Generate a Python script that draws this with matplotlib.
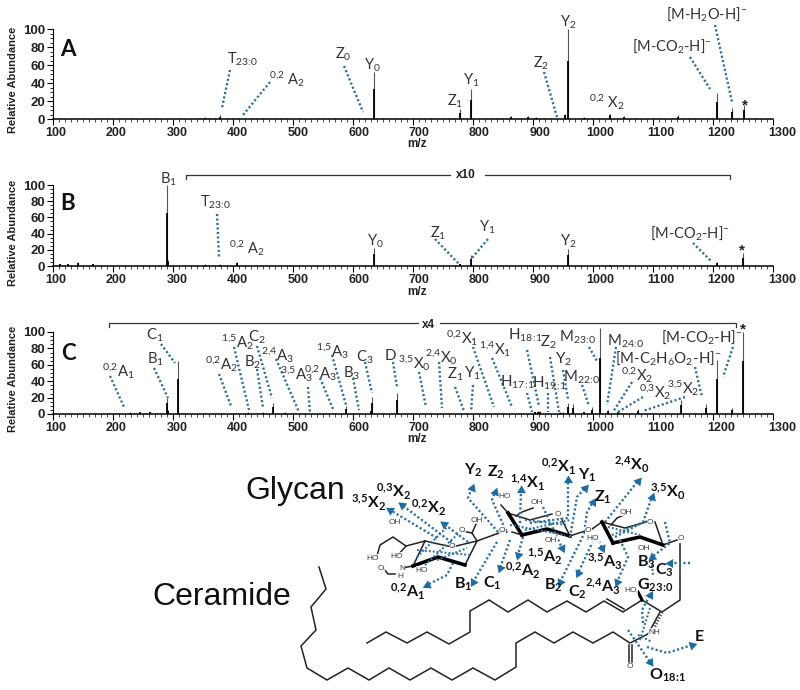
import numpy as np
import matplotlib
matplotlib.use("Agg")
import matplotlib.pyplot as plt
from matplotlib.ticker import MultipleLocator
from matplotlib.transforms import ScaledTranslation

plt.rcParams["font.family"] = ["Liberation Sans", "DejaVu Sans"]
plt.rcParams["mathtext.default"] = "regular"

# peaks
mz_a = [353, 378, 635, 778, 797, 864, 892, 905, 954, 958, 985, 1028, 1052, 1141, 1206, 1232, 1252]
ab_a = [2, 4, 52, 11, 33, 3, 3, 2, 6, 100, 2, 6, 3, 4, 29, 12, 15.5]
noise_a = [340, 345, 360, 370, 390, 400, 420, 450, 480, 510, 540, 570, 600, 620, 650, 680, 700,
           730, 760, 820, 840, 880, 920, 940, 970, 1000, 1070, 1100, 1160, 1220, 1270]

mz_b = [112, 125, 142, 167, 289.5, 292, 353, 378, 407, 635, 778, 797, 958, 1028, 1206, 1250]
ab_b = [3, 3, 5, 3, 100, 8, 2, 2, 5, 22, 3, 14, 21, 1, 5, 16]
noise_b = [105, 118, 130, 150, 160, 180, 200, 220, 240, 260, 275, 300, 320, 340, 370, 390, 420,
           450, 480, 510, 540, 570, 600, 620, 650, 680, 700, 730, 760, 820, 850, 880, 910,
           940, 980, 1010, 1050, 1100, 1150, 1180, 1220, 1270]

mz_c = [228, 245, 262, 289.5, 292, 308, 425, 450, 467, 487, 588, 630, 632, 673, 903, 908, 912,
        945, 950, 958, 967, 985, 998, 1012, 1025, 1042, 1075, 1147, 1188, 1206, 1232, 1250]
ab_c = [2, 3, 3, 20, 5, 65, 2, 2, 14, 2, 10, 5, 21, 26, 3, 4, 4,
        2, 2, 13, 12, 3, 8, 105, 5, 3, 6, 17, 12, 66, 7, 100]
noise_c = [150, 170, 190, 210, 235, 255, 270, 320, 350, 380, 400, 440, 500, 520, 550, 570, 600,
           650, 700, 730, 760, 790, 820, 850, 880, 925, 1060, 1100, 1120, 1170, 1220, 1270]

panels = [
    ("A", mz_a, ab_a, noise_a, 29, 119),
    ("B", mz_b, ab_b, noise_b, 185, 266),
    ("C", mz_c, ab_c, noise_c, 332, 414),
]

# callouts on the spectra, positions in image pixels
labels_a = [("T$_{23:0}$", 243, 59), ("$^{0{,}2}$ A$_2$", 287, 79), ("Z$_0$", 343, 54), ("Y$_0$", 372, 65),
            ("Z$_1$", 455, 101), ("Y$_1$", 471, 80), ("Z$_2$", 541, 63), ("Y$_2$", 568, 22),
            ("$^{0{,} 2}$ X$_2$", 607, 102), ("[M-CO$_2$-H]$^{-}$", 672, 46), ("[M-H$_2$O-H]$^{-}$", 707, 14)]
dots_a = [(230, 70, 222, 108), (270, 82, 243, 115), (344, 66, 363, 112), (544, 72, 557, 117),
          (690, 57, 710, 89), (715, 25, 732, 102)]

labels_b = [("B$_1$", 168, 179), ("T$_{23:0}$", 216, 202), ("$^{0{,}2}$ A$_2$", 247, 248), ("Y$_0$", 375, 241),
            ("Z$_1$", 438, 233), ("Y$_1$", 487, 227), ("Y$_2$", 568, 241), ("[M-CO$_2$-H]$^{-}$", 690, 233)]
dots_b = [(217, 214, 219, 257), (435, 239, 459, 264), (488, 239, 472, 258), (693, 243, 712, 262)]

labels_c = [("$^{0{,}2}$A$_1$", 118, 371), ("B$_1$", 156, 359), ("C$_1$", 155, 335), ("$^{0{,}2}$A$_2$", 221, 364),
            ("$^{1{,}5}$A$_2$", 237, 342), ("C$_2$", 257, 337), ("B$_2$", 253, 362), ("$^{2{,}4}$A$_3$", 277, 355),
            ("$^{3{,}5}$A$_3$", 296, 374), ("$^{0{,}2}$A$_3$", 320, 373), ("$^{1{,}5}$A$_3$", 332, 351),
            ("C$_3$", 365, 357), ("B$_3$", 352, 373), ("D", 390, 356), ("$^{3{,}5}$X$_0$", 414, 363),
            ("$^{2{,}4}$X$_0$", 441, 357), ("$^{0{,}2}$X$_1$", 462, 338), ("$^{1{,}4}$X$_1$", 495, 349),
            ("Z$_1$", 455, 374), ("Y$_1$", 472, 373), ("H$_{17:1}$", 517, 382), ("H$_{19:1}$", 549, 383),
            ("H$_{18:1}$", 525, 335), ("Z$_2$", 548, 342), ("Y$_2$", 563, 359), ("M$_{22:0}$", 582, 377),
            ("M$_{23:0}$", 578, 337), ("M$_{24:0}$", 626, 341), ("[M-C$_2$H$_6$O$_2$-H]$^{-}$", 668, 358),
            ("$^{0{,}2}$X$_2$", 637, 375), ("$^{0{,}3}$X$_2$", 655, 392), ("$^{3{,}5}$X$_2$", 683, 388),
            ("[M-CO$_2$-H]$^{-}$", 702, 337)]
dots_c = [(110, 376, 124, 407), (154, 368, 168, 398), (161, 344, 175, 363), (219, 374, 231, 406),
          (234, 347, 249, 410), (257, 346, 272, 398), (257, 369, 263, 408), (276, 359, 299, 412),
          (308, 387, 310, 413), (320, 378, 333, 409), (332, 355, 346, 405), (365, 362, 372, 393),
          (353, 378, 359, 410), (393, 362, 397, 387), (419, 372, 426, 407), (439, 362, 442, 408),
          (455, 387, 464, 411), (473, 385, 471, 412), (473, 347, 494, 407), (492, 358, 512, 407),
          (527, 350, 539, 406), (527, 393, 532, 412), (548, 393, 548, 412), (550, 357, 559, 412),
          (563, 370, 568, 399), (582, 385, 589, 406), (589, 347, 597, 361), (616, 347, 607, 405),
          (632, 382, 613, 412), (643, 397, 618, 412), (685, 397, 643, 411), (695, 367, 702, 397),
          (733, 347, 723, 377)]

stars = [(745, 103), (742, 248), (743, 327)]

# glycolipid drawing, image pixels
tail_1 = [(319, 567), (326, 589), (311, 607), (316, 630), (301, 646), (307, 668), (327, 680), (348, 668),
          (369, 680), (389, 668), (410, 680), (431, 668), (452, 680), (473, 668), (495, 680), (516, 667),
          (516, 643), (535, 632), (554, 643), (573, 632), (593, 643), (613, 632), (630, 643), (648, 634)]
tail_2 = [(367, 643), (386, 632), (407, 643), (427, 632), (449, 644), (470, 632), (470, 611), (489, 600),
          (508, 612), (528, 600), (547, 612), (567, 601), (586, 612), (604, 601), (623, 612), (642, 600),
          (662, 612), (680, 600), (680, 544)]
ring_1 = [(425, 541), (452, 547), (477, 541), (465, 565)]
ring_1b = [(425, 541), (413, 566)]
ring_1_thick = [(465, 565), (438, 557), (413, 566)]
thin_bonds = [
    [(477, 541), (499, 533), (506, 530)], [(477, 541), (472, 533), (462, 531)], [(472, 533), (477, 522)],
    [(425, 541), (406, 546), (393, 537), (380, 545), (377, 556)], [(406, 546), (398, 555)],
    [(413, 566), (402, 568)], [(395, 574), (388, 574), (383, 568)],
    [(512, 532), (522, 535)], [(508, 513), (501, 505)], [(508, 513), (530, 520), (552, 514)],
    [(516, 516), (522, 512), (533, 508)], [(561, 518), (570, 536), (585, 531)], [(592, 529), (602, 522)],
    [(602, 522), (625, 528), (646, 522)], [(611, 525), (617, 518), (626, 514)], [(655, 522), (663, 545), (677, 540)],
    [(648, 634), (660, 612)],
]
thick_bonds = [
    [(522, 535), (547, 529), (570, 536)], [(508, 513), (522, 535)],
    [(602, 522), (613, 543)], [(613, 543), (640, 537), (663, 545)],
]
chem_text = [("OH", 477, 520), ("O", 462, 531), ("O", 452, 547), ("HO", 373, 558), ("OH", 395, 523),
             ("HO", 397, 556), ("N", 402, 569), ("H", 400, 577), ("O", 381, 569), ("HO", 422, 570),
             ("O", 502, 530), ("HO", 505, 497), ("OH", 537, 503), ("O", 558, 514), ("OH", 551, 540),
             ("O", 588, 530), ("OH", 626, 512), ("O", 650, 522), ("HO", 593, 539), ("OH", 644, 549),
             ("O", 681, 538), ("HO", 631, 591), ("NH", 654, 632), ("O", 630, 667)]

arrows = [
    [(498, 532), (468, 498), (472, 488)], [(507, 533), (492, 500), (495, 492)], [(520, 523), (521, 490)],
    [(468, 542), (444, 524)], [(455, 545), (402, 505)], [(437, 538), (390, 510)],
    [(453, 563), (447, 575), (427, 585)], [(497, 542), (473, 582)], [(510, 540), (500, 568)],
    [(523, 537), (518, 555)], [(530, 523), (568, 518), (568, 480)], [(570, 537), (577, 497), (585, 488)],
    [(585, 527), (587, 512), (593, 502)], [(605, 522), (638, 481)], [(615, 537), (643, 522), (652, 497)],
    [(543, 507), (562, 548)], [(587, 528), (560, 582)], [(595, 537), (578, 573)], [(597, 537), (602, 548)],
    [(620, 540), (628, 557), (617, 582)], [(665, 522), (670, 543), (652, 557)], [(690, 563), (670, 563)],
    [(643, 623), (642, 610), (650, 595)], [(647, 647), (667, 653), (692, 645)], [(628, 630), (650, 662)],
]
ring_dots = [[(417, 557), (447, 527)], [(425, 565), (460, 532)], [(417, 550), (470, 555)], [(437, 560), (467, 548)],
             [(510, 525), (565, 535)], [(525, 520), (567, 525)], [(525, 530), (570, 520)],
             [(612, 535), (650, 520)], [(608, 527), (640, 535)], [(652, 565), (653, 575)], [(640, 640), (650, 608)],
             [(638, 635), (652, 642)]]

struct_labels = [("Y$_2$", 473, 470), ("Z$_2$", 496, 472), ("$^{1{,}4}$X$_1$", 527, 483), ("$^{3{,}5}$X$_2$", 368, 503),
                 ("$^{0{,}3}$X$_2$", 393, 492), ("$^{0{,}2}$X$_2$", 428, 508), ("$^{0{,}2}$X$_1$", 558, 467),
                 ("Y$_1$", 587, 475), ("Z$_1$", 603, 497), ("$^{2{,}4}$X$_0$", 632, 465), ("$^{3{,}5}$X$_0$", 668, 492),
                 ("B$_1$", 463, 584), ("C$_1$", 492, 583), ("$^{0{,}2}$A$_2$", 523, 571), ("$^{1{,}5}$A$_2$", 545, 557),
                 ("$^{3{,}5}$A$_3$", 605, 562), ("B$_3$", 646, 562), ("C$_3$", 664, 570), ("B$_2$", 553, 585),
                 ("C$_2$", 577, 592), ("$^{2{,}4}$A$_3$", 603, 587), ("G$_{23:0}$", 655, 585), ("E", 699, 637),
                 ("O$_{18:1}$", 668, 675), ("$^{0{,}2}$A$_1$", 408, 592)]

W, H = 800, 690
LEFT, RIGHT = 53, 773
BLUE = "#2f6f9f"
DOTS = (0, (0.9, 1.0))


def tight(txt):
    # mathtext puts space round the colon, the original has none
    return txt.replace(":", r"\!:\!")


fig = plt.figure(figsize=(W / 100, H / 100), dpi=100)

for name, mz, ab, noise, top, bottom in panels:
    ax = fig.add_axes([LEFT / W, 1 - bottom / H, (RIGHT - LEFT) / W, (bottom - top) / H])
    ax.vlines(noise, 0, 1.2, color="#222222", lw=0.7)
    ax.vlines(mz, 0, ab, color="#555555", lw=0.8, clip_on=False)
    ax.vlines(mz, 0, np.array(ab) * 0.65, color="black", lw=1.3, clip_on=False)
    ax.set_xlim(100, 1300)
    ax.set_ylim(0, 100)
    ax.spines["top"].set_visible(False)
    ax.spines["right"].set_visible(False)
    ax.spines["left"].set_linewidth(0.8)
    ax.spines["bottom"].set_linewidth(1.1)
    ax.xaxis.set_major_locator(MultipleLocator(100))
    ax.xaxis.set_minor_locator(MultipleLocator(10))
    ax.yaxis.set_major_locator(MultipleLocator(20))
    ax.yaxis.set_minor_locator(MultipleLocator(5))
    ax.tick_params(axis="x", which="major", length=4, width=0.8, pad=1.5, labelsize=9)
    ax.tick_params(axis="x", which="minor", length=2, width=0.5)
    ax.tick_params(axis="y", which="major", length=4, width=0.8, pad=1.5, labelsize=9.5)
    ax.tick_params(axis="y", which="minor", length=2.5, width=0.6)
    fig.canvas.draw()
    # tick labels in the original run a little wider than the ticks
    for tick, lab in zip(ax.get_xticks(), ax.get_xticklabels()):
        dx = 3 + (tick - 100) / 1200 * 6
        lab.set_transform(lab.get_transform() + ScaledTranslation(dx / 100, 0, fig.dpi_scale_trans))
    for lab in ax.get_xticklabels() + ax.get_yticklabels():
        lab.set_fontweight("bold")
        lab.set_color("#222222")
    ax.patch.set_alpha(0)

over = fig.add_axes([0, 0, 1, 1], zorder=5)
over.set_xlim(0, W)
over.set_ylim(H, 0)
over.axis("off")

for name, y in zip("ABC", [49, 203, 354]):
    over.text(68, y, name, family="Lato", fontsize=16, fontweight="bold", ha="center", va="center", color="#111111")
for y in [80, 233, 379]:
    over.text(13, y, "Relative Abundance", fontsize=8, fontweight="bold", rotation=90, ha="center", va="center",
              color="#222222")
for y in [144, 292, 439]:
    over.text(417, y, "m/z", fontsize=8.5, fontweight="bold", ha="center", va="center", color="#222222")

for labels, size in [(labels_a, 10.5), (labels_b, 10.5), (labels_c, 10.8)]:
    for txt, x, y in labels:
        over.text(x, y, tight(txt), family="Lato", fontsize=size, ha="center", va="center", color="#333333")
for dots in [dots_a, dots_b, dots_c]:
    for x0, y0, x1, y1 in dots:
        over.plot([x0, x1], [y0, y1], color=BLUE, lw=1.7, ls=DOTS)
for x, y in stars:
    over.text(x, y + 2, "*", fontsize=11, fontweight="bold", ha="center", va="center", color="#222222")

# x10 and x4 brackets
over.plot([186, 186, 450], [179, 175, 175], color="#333333", lw=0.9)
over.plot([485, 730, 730], [175, 175, 179], color="#333333", lw=0.9)
over.text(466, 175, "x10", fontsize=8.5, fontweight="bold", ha="center", va="center", color="#222222")
over.plot([109, 109, 418], [327, 323, 323], color="#333333", lw=0.9)
over.plot([440, 736, 736], [323, 323, 327], color="#333333", lw=0.9)
over.text(428, 325, "x4", fontsize=8.5, fontweight="bold", ha="center", va="center", color="#222222")

# structure
over.text(295, 491, "Glycan", fontsize=23, ha="center", va="center", color="#111111")
over.text(222, 597, "Ceramide", fontsize=23, ha="center", va="center", color="#111111")

for path in [tail_1, tail_2, ring_1, ring_1b] + thin_bonds:
    xs, ys = zip(*path)
    over.plot(xs, ys, color="#222222", lw=1.1, solid_joinstyle="miter")
for path in [ring_1_thick] + thick_bonds:
    xs, ys = zip(*path)
    over.plot(xs, ys, color="black", lw=2.6)
over.plot([607, 624], [599, 609], color="#222222", lw=1.1)  # double bond
over.plot([629, 629], [645, 662], color="#222222", lw=1.1)
over.plot([632, 632], [645, 662], color="#222222", lw=1.1)
over.plot([642, 638], [600, 592], color="black", lw=2.2)
over.plot([662, 654], [612, 628], color="#555555", lw=2.4, ls=(0, (0.4, 0.5)))

for path in ring_dots:
    xs, ys = zip(*path)
    over.plot(xs, ys, color=BLUE, lw=1.5, ls=DOTS)
for path in arrows:
    xs, ys = zip(*path)
    over.plot(xs, ys, color=BLUE, lw=1.7, ls=DOTS)
    ang = np.degrees(np.arctan2(-(ys[-1] - ys[-2]), xs[-1] - xs[-2])) - 90
    over.plot(xs[-1], ys[-1], marker=(3, 0, ang), ms=7.5, color="#1f6ca3", mec="none")

for txt, x, y in chem_text:
    over.text(x, y, txt, fontsize=6, ha="center", va="center", color="#444444",
              bbox=dict(fc="white", ec="none", pad=0.2, alpha=0.8))
for txt, x, y in struct_labels:
    over.text(x, y, tight(txt), family="Lato", fontsize=11.5, fontweight="bold", ha="center", va="center",
              color="#111111")

fig.savefig("out.png", dpi=100)
